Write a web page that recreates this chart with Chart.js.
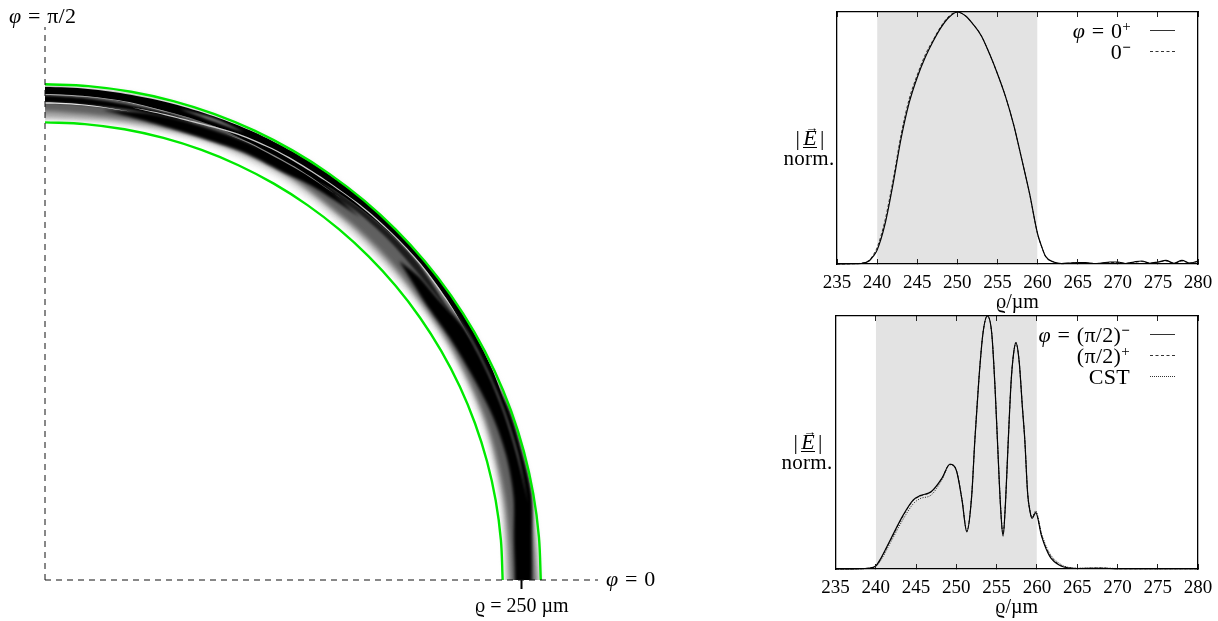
<!DOCTYPE html>
<html><head><meta charset="utf-8">
<script src="https://cdn.jsdelivr.net/npm/chart.js@4"></script>
<style>
html,body{margin:0;padding:0;background:#fff;width:1218px;height:621px;overflow:hidden}
canvas{position:absolute}
.t{position:absolute;font:22px "Liberation Serif",serif;color:#000;white-space:nowrap;line-height:22px;letter-spacing:.3px}
.t i{font-style:italic}
.t sup{font-size:15px;line-height:0;vertical-align:7px}
.eq{margin:0 6.5px}
.s{position:absolute;width:25px;height:0;border-top:1px solid #333}
.r{text-align:right}
.c{text-align:center}
.e{position:relative;display:inline-block;font-style:italic;border-bottom:1.5px solid #000;line-height:19px;margin:0 3px}
.e b{position:absolute;left:2px;top:-8px;font:normal 13px "Liberation Serif",serif;letter-spacing:0}
</style></head><body>
<canvas id="polar" style="left:0;top:0" width="660" height="621"></canvas>
<canvas id="top" style="left:770px;top:0" width="448" height="316"></canvas>
<canvas id="bot" style="left:770px;top:306px" width="448" height="315"></canvas>

<div class="t" style="left:9px;top:5px"><i>φ</i><span class="eq">=</span>π/2</div>
<div class="t" style="left:606px;top:568px"><i>φ</i><span class="eq">=</span>0</div>

<div class="t r" style="right:87px;top:20px"><i>φ</i><span class="eq">=</span>0<sup>+</sup></div>
<div class="t r" style="right:87px;top:41px">0<sup><b>−</b></sup></div>
<div class="s" style="left:1150px;top:30px"></div>
<div class="s" style="left:1150px;top:51px;border-top-style:dashed"></div>
<div class="t c" style="left:770px;width:80px;top:127px">|<span class="e">E<b>→</b></span>|</div>
<div class="t c" style="left:783px;width:52px;top:147px;font-size:21px">norm.</div>

<div class="t r" style="right:88px;top:324px"><i>φ</i><span class="eq">=</span>(π/2)<sup><b>−</b></sup></div>
<div class="t r" style="right:88px;top:345px">(π/2)<sup>+</sup></div>
<div class="t r" style="right:88px;top:366px">CST</div>
<div class="s" style="left:1150px;top:334px"></div>
<div class="s" style="left:1150px;top:355px;border-top-style:dashed"></div>
<div class="s" style="left:1150px;top:376px;border-top-style:dotted"></div>
<div class="t c" style="left:768px;width:80px;top:431px">|<span class="e">E<b>→</b></span>|</div>
<div class="t c" style="left:781px;width:52px;top:451px;font-size:21px">norm.</div>

<script>
// ---------- Polar field map: boundary radii and tick ----------
const boundaryRadii = [240, 260];
const boundaryPhi = [0,5,10,15,20,25,30,35,40,45,50,55,60,65,70,75,80,85,90];
const polarTicks = [250];
const polarTickLabel = 'ϱ = 250 µm';
const polarAxisMax = 290;

// ---------- Polar field map: shaded bands (φ in deg, ρ in µm) ----------
const haloPhi   = [-4,0,10,20,30,40,50,60,70,80,90,94];
const haloIn    = [241,241,242,243,243.5,242.5,242.5,244,243.5,242,241,241];
const haloOut   = [259.7,259.7,259.7,259.8,259.8,259.8,259.8,259.8,259.8,259.6,259,259];

const midPhi    = [-4,0,10,20,30,40,50,60,70,80,90,94];
const midIn     = [242.5,242.5,243.5,245,245,244.5,245,246.5,245.5,243.5,242.5,242.5];
const midOut    = [258.8,258.8,258.5,258,258,258,257,257,258,258,258,258];

const darkPhi   = [-4,0,10,20,30,40,45,50,60,70,80,90,94];
const darkIn    = [244.5,244.5,245,246,246,246,246.5,246.5,248,247,245.5,246,246];
const darkOut   = [257,257,257,256.5,257,257,257,256,257,256,257,258,258];

const lowBandPhi = [-4,0,5,10,15,20,25,31,36,39,42];
const lowBandIn  = [246.5,246.5,246.8,249.5,250.5,250,248.5,247.3,246.7,248,250];
const lowBandOut = [255.3,255.3,256.3,259.2,259.2,259.5,258,256.5,253.2,252.5,250];

const subBandPhi = [33,40,45,50,55,60];
const subBandIn  = [254.5,253.2,253.5,253,251,250];
const subBandOut = [254.5,256.6,256.6,255.8,254.8,254];

const outerPhi  = [20,25,30,35,40,45,50,55,60,65,70,75,80,85,90,94];
const outerIn   = [258,255.5,256.5,257,257.3,256.6,255.5,254,250,253,254,254,254,254.5,254.9,254.9];
const outerOut  = [258,259.2,259.6,259.7,259.9,259.9,259.8,259.6,259.4,259.2,258.8,258.6,258.4,258.5,258.5,258.5];

const secondPhi = [72,75,80,85,90,94];
const secondIn  = [252,251,250.5,250,250.4,250.4];
const secondOut = [252,253,253,253.5,253.9,253.9];

const innerPhi  = [49,56,60,65,70,74,78,83];
const innerIn   = [252,249.5,247.5,247.3,246,245.8,246.5,248.5];
const innerOut  = [252,254,254,253,252,251.5,250.5,248.5];

const streak1Phi = [72,80,85,90,94];
const streak1In  = [254,254,254.2,254.4,254.4];
const streak1Out = [254,254.5,254.7,254.9,254.9];

const streak2Phi = [78,85,90,94];
const streak2In  = [250,249.6,249.7,249.7];
const streak2Out = [250,250.2,250.5,250.5];

const streak3Phi = [32,35,40,45,50,55,60,63,67,72,76,80];
const streak3In  = [256.6,256.5,257,256.8,256.4,255.7,255.4,255.1,254.2,252.2,251.7,252];
const streak3Out = [256.6,257.1,257.6,257.4,257,256.3,256.1,255.8,254.9,252.9,252.3,252];

const fadedStreakPhi = [9,15,20,25,30,34];
const fadedStreakIn  = [256.6,256,256.1,256.2,256.4,256.7];
const fadedStreakOut = [256.6,256.6,256.7,256.8,257,256.7];

const patchPhi = [66,70,74];
const patchIn  = [257,256.2,257];
const patchOut = [257,257.8,257];

const streak5Phi = [52,58,65,68];
const streak5In  = [253.4,252.7,252.7,252.6];
const streak5Out = [253.4,253.3,253.3,252.6];

const heatLayers = [
  [haloPhi,haloIn,haloOut,'#dedede',2.5],
  [midPhi,midIn,midOut,'#a6a6a6',2.2],
  [darkPhi,darkIn,darkOut,'#606060',2],
  [lowBandPhi,lowBandIn,lowBandOut,'#000000',1.4],
  [subBandPhi,subBandIn,subBandOut,'#1c1c1c',1.2],
  [outerPhi,outerIn,outerOut,'#000000',0.7],
  [secondPhi,secondIn,secondOut,'#000000',0.9],
  [innerPhi,innerIn,innerOut,'#000000',1.5],
  [streak1Phi,streak1In,streak1Out,'#a8a8a8',0.5],
  [streak2Phi,streak2In,streak2Out,'#e4e4e4',0.6],
  [streak3Phi,streak3In,streak3Out,'#c8c8c8',0.7],
  [fadedStreakPhi,fadedStreakIn,fadedStreakOut,'#7c7c7c',0.8],
  [patchPhi,patchIn,patchOut,'#707070',1],
  [streak5Phi,streak5In,streak5Out,'#8a8a8a',0.7]
];

// ---------- Line plots ----------
const xTicksMin = 235, xTicksMax = 280, xTickStep = 5;
const bandStart = 240, bandEnd = 260;
const rhoLabel = 'ϱ/µm';

const rhoA = [235,237,238,239,239.5,240,241,242,243,244,245,246,247,248,249,250,251,252,253,254,255,256,257,258,259,260,260.5,261,262,263,264,265,266,267,268,269,270,271,272,273,274,275,276,277,278,279,280,280.4];
const phi0plus  = [0,.001,.002,.012,.03,.055,.16,.32,.5,.64,.74,.82,.885,.94,.98,1,.985,.95,.905,.835,.755,.665,.555,.42,.28,.12,.07,.03,.008,.002,.004,.006,.006,.002,.004,.008,.008,.002,.008,.012,.003,.008,.014,.003,.014,.004,.012,.016];
const phi0minus = [0,.001,.003,.015,.035,.065,.175,.335,.515,.655,.75,.83,.89,.945,.985,1,.985,.95,.905,.835,.755,.665,.555,.42,.28,.12,.07,.03,.008,.001,.003,.005,.004,.002,.003,.006,.006,.002,.006,.01,.003,.007,.012,.003,.012,.004,.01,.014];

const rhoB = [235,238,239,240,240.5,241.8,243.4,244.66,245.5,246.9,248.2,249.2,250,250.7,251.3,251.9,252.3,252.8,253.3,253.85,254.4,254.8,255.1,255.5,255.8,256.1,256.45,256.8,257.1,257.4,257.8,258.2,258.5,258.85,259.15,259.4,259.85,260.6,261.6,263,264,265,268,270,275,280,280.4];
const phiHalfMinus = [0,.001,.003,.012,.035,.115,.213,.273,.29,.306,.358,.414,.39,.273,.147,.286,.51,.75,.93,1,.93,.72,.51,.24,.13,.26,.51,.74,.85,.895,.82,.64,.51,.3,.227,.2,.223,.128,.05,.012,.004,.002,.003,.001,.001,.001,.001];
const phiHalfPlus  = [0,.001,.003,.011,.033,.112,.21,.271,.288,.305,.357,.414,.39,.275,.15,.288,.51,.75,.93,1,.93,.72,.51,.24,.135,.26,.51,.74,.85,.895,.82,.64,.51,.3,.228,.202,.225,.132,.056,.014,.005,.002,.004,.001,.001,.001,.001];
const cstValues    = [0,.001,.002,.01,.028,.103,.197,.258,.278,.293,.352,.412,.39,.277,.152,.29,.51,.75,.93,1,.93,.72,.51,.245,.138,.265,.515,.74,.85,.89,.82,.64,.51,.3,.23,.205,.23,.138,.062,.018,.006,.003,.004,.002,.001,.001,.001];

// ---------- Helpers ----------
const serif = 'Liberation Serif';
const rad = d => d*Math.PI/180;
const polarPt = (r,d) => ({x:r*Math.cos(rad(d)), y:r*Math.sin(rad(d))});
const zip = (xs,ys) => xs.map((x,i)=>({x, y:ys[i]}));

// ---------- Left chart ----------
const heatDatasets = heatLayers.map(([p,inn,out,col,blur],i)=>({
  data:[...p.map((d,k)=>polarPt(out[k],d)), ...p.map((d,k)=>polarPt(inn[k],d)).reverse()],
  showLine:true, fill:'shape', backgroundColor:col, borderWidth:0, pointRadius:0,
  tension:0.3, order:1000-i, blurPx:blur
}));
const greenDatasets = boundaryRadii.map((r,i)=>({
  data:boundaryPhi.map(d=>polarPt(r,d)), showLine:true, borderColor:'#00e900', borderWidth:2.4,
  pointRadius:0, tension:0.35, fill:false, order:100-i, blurPx:0
}));
const axisDatasets = [
  {data:[{x:0,y:0},{x:polarAxisMax,y:0}], showLine:true, borderColor:'#111', borderWidth:1, borderDash:[6,5], pointRadius:0, order:10, blurPx:0, clip:false},
  {data:[{x:0,y:0},{x:0,y:polarAxisMax}], showLine:true, borderColor:'#111', borderWidth:1, borderDash:[6,5], pointRadius:0, order:9, blurPx:0, clip:false}
];
const polarDatasets = [...heatDatasets,...greenDatasets,...axisDatasets];
const blurPlugin = {
  id:'fieldBlur',
  beforeDatasetsDraw(c){ c.ctx.filter = 'blur('+polarDatasets[0].blurPx+'px)'; },
  afterDatasetDraw(c,a){
    const nx = polarDatasets[a.index+1];
    c.ctx.filter = nx && nx.blurPx ? 'blur('+nx.blurPx+'px)' : 'none';
  },
  afterDatasetsDraw(c){ c.ctx.filter='none'; }
};
new Chart(document.getElementById('polar'),{
  type:'scatter',
  data:{datasets:polarDatasets},
  plugins:[blurPlugin],
  options:{
    responsive:false, animation:false, events:[],
    layout:{padding:{left:45,right:62,top:27,bottom:0}},
    plugins:{legend:{display:false},tooltip:{enabled:false}},
    scales:{
      x:{type:'linear',min:0,max:polarAxisMax,
        afterBuildTicks:s=>{s.ticks=polarTicks.map(v=>({value:v}));},
        afterFit:s=>{s.height=41;},
        border:{display:false},
        grid:{drawOnChartArea:false,drawTicks:true,tickLength:9,tickColor:'#000',tickWidth:2},
        ticks:{maxRotation:0,autoSkip:false,padding:6,color:'#000',font:{family:serif,size:20},callback:()=>polarTickLabel}
      },
      y:{type:'linear',min:0,max:polarAxisMax,display:false,afterFit:s=>{s.width=0;}}
    }
  }
});

// ---------- Right charts ----------
function plotOptions(padTop,padLeft,xH){
  const common={type:'linear',min:xTicksMin,max:xTicksMax};
  const tick=v=>String(v);
  return {
    responsive:false, animation:false, events:[],
    layout:{padding:{left:padLeft,right:20,top:padTop,bottom:0}},
    plugins:{legend:{display:false},tooltip:{enabled:false}},
    scales:{
      x:{...common,position:'bottom',afterFit:s=>{s.height=xH;s.paddingLeft=0;s.paddingRight=0;},
        border:{color:'#000',width:1.3,z:2},
        grid:{drawOnChartArea:false,drawTicks:true,tickLength:-5,tickColor:'#222',z:1},
        ticks:{stepSize:xTickStep,padding:13,maxRotation:0,autoSkip:false,color:'#000',font:{family:serif,size:19},callback:tick},
        title:{display:true,text:rhoLabel,color:'#000',font:{family:serif,size:20},padding:{top:0,bottom:1}}
      },
      x2:{...common,axis:'x',position:'top',afterFit:s=>{s.height=0;},
        border:{color:'#000',width:1.3,z:2},
        grid:{drawOnChartArea:false,drawTicks:true,tickLength:-5,tickColor:'#222',z:1},
        ticks:{stepSize:xTickStep,display:false}
      },
      y:{type:'linear',min:0,max:1,position:'left',afterFit:s=>{s.width=0;},
        border:{color:'#000',width:1.3,z:2},grid:{display:false},ticks:{display:false}},
      y2:{type:'linear',axis:'y',min:0,max:1,position:'right',afterFit:s=>{s.width=0;},
        border:{color:'#000',width:1.3,z:2},grid:{display:false},ticks:{display:false}}
    }
  };
}
const shadeData = [{x:bandStart,y:1},{x:bandEnd,y:1}];
const shadeSet = {data:shadeData,showLine:true,fill:'origin',backgroundColor:'#e3e3e3',borderWidth:0,pointRadius:0,order:100};
const lineSet = (xs,ys,dash,w,order,col)=>({data:zip(xs,ys),showLine:true,borderColor:col||'#000',borderWidth:w,borderDash:dash,
  pointRadius:0,cubicInterpolationMode:'monotone',fill:false,clip:false,order});

new Chart(document.getElementById('top'),{
  type:'scatter',
  data:{datasets:[shadeSet,lineSet(rhoA,phi0plus,[],1.2,1),lineSet(rhoA,phi0minus,[3,2],1,2,'#333')]},
  options:plotOptions(12,67,52)
});
new Chart(document.getElementById('bot'),{
  type:'scatter',
  data:{datasets:[{...shadeSet},lineSet(rhoB,phiHalfMinus,[],1.2,1),lineSet(rhoB,phiHalfPlus,[3,2],1,2,'#333'),lineSet(rhoB,cstValues,[1,1.5],1,3,'#222')]},
  options:plotOptions(10,65.5,52)
});
</script>
</body></html>
